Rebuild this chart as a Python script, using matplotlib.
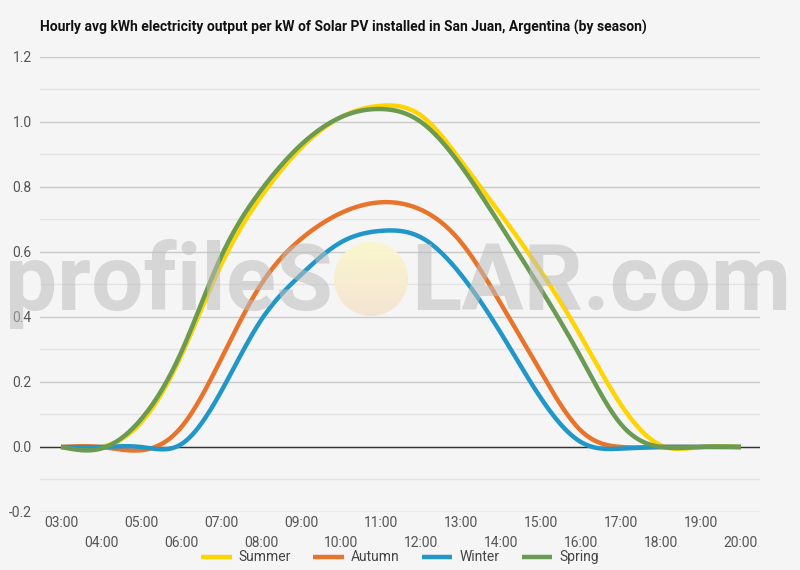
import numpy as np
import matplotlib
matplotlib.use("Agg")
import matplotlib.pyplot as plt
from matplotlib.patches import Circle

plt.rcParams['font.family'] = ['Roboto', 'DejaVu Sans']

hours = [3, 4, 5, 6, 7, 8, 9, 10, 11, 12, 13, 14, 15, 16, 17, 18, 19, 20]
hour_labels = ["%02d:00" % h for h in hours]

summer = [0.0, 0.0, 0.075, 0.28, 0.56, 0.77, 0.92, 1.015, 1.05, 1.02, 0.88, 0.715, 0.54, 0.34, 0.13, 0.005, 0.0, 0.0]
autumn = [0.0, 0.0, -0.01, 0.06, 0.27, 0.50, 0.64, 0.72, 0.753, 0.73, 0.63, 0.44, 0.23, 0.05, 0.0, 0.0, 0.0, 0.0]
winter = [0.0, 0.0, 0.0, 0.008, 0.17, 0.39, 0.53, 0.63, 0.665, 0.645, 0.53, 0.35, 0.15, 0.015, -0.005, 0.0, 0.0, 0.0]
spring = [0.0, -0.005, 0.085, 0.29, 0.585, 0.79, 0.93, 1.015, 1.04, 1.0, 0.865, 0.68, 0.485, 0.275, 0.07, 0.0, 0.0, 0.0]

series = [("Summer", summer, "#FFD400"),
          ("Autumn", autumn, "#E8742C"),
          ("Winter", winter, "#2196C8"),
          ("Spring", spring, "#6B9A52")]


def smooth(x, y, n=25):
    # natural cubic spline through the hourly points
    x = np.asarray(x, float)
    y = np.asarray(y, float)
    m = len(x)
    h = np.diff(x)
    A = np.zeros((m, m))
    b = np.zeros(m)
    A[0, 0] = A[-1, -1] = 1
    for i in range(1, m - 1):
        A[i, i - 1] = h[i - 1]
        A[i, i] = 2 * (h[i - 1] + h[i])
        A[i, i + 1] = h[i]
        b[i] = 6 * ((y[i + 1] - y[i]) / h[i] - (y[i] - y[i - 1]) / h[i - 1])
    M = np.linalg.solve(A, b)
    xs = np.linspace(x[0], x[-1], (m - 1) * n + 1)
    idx = np.clip(np.searchsorted(x, xs) - 1, 0, m - 2)
    x0, x1 = x[idx], x[idx + 1]
    hh = x1 - x0
    a = (x1 - xs) / hh
    c = (xs - x0) / hh
    ys = (a * y[idx] + c * y[idx + 1]
          + ((a ** 3 - a) * M[idx] + (c ** 3 - c) * M[idx + 1]) * hh ** 2 / 6)
    return xs, ys


bg = "#F5F5F5"
fig = plt.figure(figsize=(8, 5.7), dpi=100, facecolor=bg)
ax = fig.add_axes([0.05, 0.1018, 0.9, 0.7982])
ax.set_facecolor(bg)

for name, vals, col in series:
    sx, sy = smooth(hours, vals)
    ax.plot(sx, sy, color=col, lw=3.2, label=name, solid_capstyle='butt', zorder=3)

ax.set_xlim(2.475, 20.475)
ax.set_ylim(-0.2, 1.2)
ax.set_yticks(np.arange(-0.2, 1.21, 0.2))
ax.set_yticklabels(["%.1f" % v for v in np.arange(-0.2, 1.21, 0.2)])
ax.set_yticks(np.arange(-0.1, 1.2, 0.2), minor=True)
ax.grid(axis='y', which='major', color='#CACACA', lw=1)
ax.grid(axis='y', which='minor', color='#E3E3E3', lw=1)
ax.axhline(0, color='#333333', lw=1, zorder=2)
ax.set_axisbelow(True)

odd = [h for h in hours if h % 2 == 1]
even = [h for h in hours if h % 2 == 0]
ax.set_xticks(odd)
ax.set_xticklabels(["%02d:00" % h for h in odd])
ax.set_xticks(even, minor=True)
ax.set_xticklabels(["%02d:00" % h for h in even], minor=True)
ax.tick_params(axis='x', which='major', length=0, pad=3, labelsize=10, labelcolor='#555555')
ax.tick_params(axis='x', which='minor', length=0, pad=17, labelsize=10, labelcolor='#555555')
ax.tick_params(axis='y', which='both', length=0, pad=6, labelsize=10, labelcolor='#555555')
for s in ax.spines.values():
    s.set_visible(False)

fig.text(0.05, 0.951, "Hourly avg kWh electricity output per kW of Solar PV installed in San Juan, Argentina (by season)",
         fontsize=10, fontweight='bold', color='#111111', va='center', ha='left')

fig.legend(loc='center', bbox_to_anchor=(0.5, 0.022), ncol=4, frameon=False,
           fontsize=10, handlelength=2.2, handletextpad=0.5, columnspacing=1.6,
           labelcolor='#444444')

# watermark, sized to fit its pixel span
renderer = fig.canvas.get_renderer()
base_y = 1 - 310 / 570
wm_left = fig.text(333 / 800, base_y, "profileS", fontsize=60, fontweight='bold',
                   color='#BDBDBD', alpha=0.55, ha='right', va='baseline', zorder=10)
wm_right = fig.text(411 / 800, base_y, "LAR.com", fontsize=60, fontweight='bold',
                    color='#BDBDBD', alpha=0.55, ha='left', va='baseline', zorder=10)
w = wm_left.get_window_extent(renderer).width
wm_left.set_fontsize(60 * 328 / w)
wm_right.set_fontsize(60 * 328 / w)

sun = fig.add_axes([(371 - 37) / 800, 1 - (279 + 37) / 570, 74 / 800, 74 / 570])
sun.set_axis_off()
grad = np.linspace(0, 1, 100)[:, None]
top = np.array([250, 246, 205]) / 255
bot = np.array([245, 228, 212]) / 255
img = top[None, None, :] * (1 - grad[:, :, None]) + bot[None, None, :] * grad[:, :, None]
img = np.repeat(img, 2, axis=1)
im = sun.imshow(img, extent=[0, 1, 0, 1], origin='upper', aspect='auto')
circ = Circle((0.5, 0.5), 0.5, transform=sun.transData, facecolor='none', edgecolor='none')
sun.add_patch(circ)
im.set_clip_path(circ)
sun.set_xlim(0, 1)
sun.set_ylim(0, 1)

fig.savefig("out.png", dpi=100, facecolor=bg)
